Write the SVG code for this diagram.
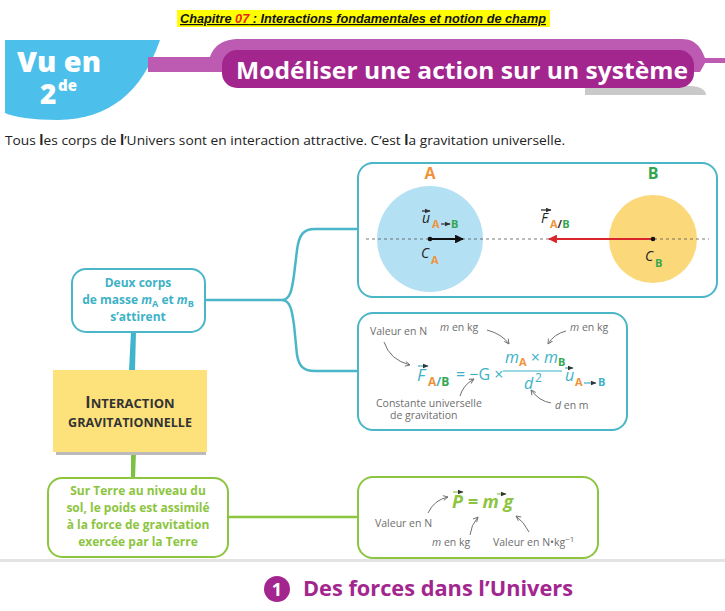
<svg xmlns="http://www.w3.org/2000/svg" width="725" height="611" viewBox="0 0 725 611">
<style>
.sans{font-family:"Open Sans","Noto Sans","Liberation Sans",sans-serif}
.lbl{font-family:"Open Sans","Noto Sans",sans-serif;font-size:10.5px;fill:#6e6e6e}
.teal{fill:#3db2c6}
.org{fill:#f0923a}
.grn{fill:#34a64f}
.lg{fill:#8cc540}
.box{fill:#fff;stroke-width:2}
.tb{stroke:#4bb6c8}
.gb{stroke:#8cc540}
.garr{fill:none;stroke:#707070;stroke-width:1}
.vec{fill:none;stroke-width:1.2}
</style>
<defs>
<marker id="ga" viewBox="0 0 10 10" refX="9" refY="5" markerWidth="6" markerHeight="6" orient="auto"><path d="M1,1 L9,5 L1,9" fill="none" stroke="#707070" stroke-width="1.5"/></marker>
<marker id="ka" viewBox="0 0 10 10" refX="9" refY="5" markerWidth="4" markerHeight="4" orient="auto"><path d="M0,0 L10,5 L0,10 Z" fill="#111"/></marker>
<marker id="ra" viewBox="0 0 10 10" refX="9" refY="5" markerWidth="4" markerHeight="4" orient="auto"><path d="M0,0 L10,5 L0,10 Z" fill="#d9262d"/></marker>
<marker id="va" viewBox="0 0 10 10" refX="9" refY="5" markerWidth="5" markerHeight="5" orient="auto"><path d="M0,1 L10,5 L0,9 Z" fill="#333"/></marker>
</defs>
<rect width="725" height="611" fill="#fff"/>

<g id="chapter">
<rect x="177" y="10" width="373" height="17" fill="#ffff00"/>
<text x="180" y="23" font-family="'Liberation Sans',sans-serif" font-size="12" font-weight="bold" font-style="italic" text-decoration="underline" fill="#111" textLength="366" lengthAdjust="spacingAndGlyphs">Chapitre <tspan fill="#e8261c">07</tspan> : Interactions fondamentales et notion de champ</text>
</g>

<g id="header">
<path d="M5,40 H160 C142,92 110,119 58,120 C32,120 14,117 5,113 Z" fill="#4cbfeb"/>
<text x="17" y="72" class="sans" font-size="28" font-weight="800" fill="#fff" textLength="84" lengthAdjust="spacingAndGlyphs">Vu en</text>
<text x="40" y="104" class="sans" font-size="28" font-weight="800" fill="#fff">2</text>
<text x="58" y="91" class="sans" font-size="15" font-weight="800" fill="#fff">de</text>
<path d="M148,57 H210 C214,46 222,39 240,39 H682 C697,39 702,50 705,58 H725 V63 H705 L700,72 H148 Z" fill="#bd5bb3"/>
<path d="M585,86 H690 C700,86 706,90 706,95 H585 Z" fill="#c9c9c9"/>
<rect x="222" y="50" width="472" height="38" rx="15" fill="#a3268f"/>
<text x="236" y="79" class="sans" font-size="24" font-weight="bold" fill="#fff" textLength="452" lengthAdjust="spacingAndGlyphs">Modéliser une action sur un système</text>
</g>

<g id="intro">
<text x="5" y="145" class="sans" font-size="13.5" fill="#222" textLength="560" lengthAdjust="spacingAndGlyphs">Tous <tspan font-weight="bold">l</tspan>es corps de <tspan font-weight="bold">l</tspan>’Univers sont en interaction attractive. C’est <tspan font-weight="bold">l</tspan>a gravitation universelle.</text>
</g>

<g id="connectors">
<path d="M205,300 H282 C290,300 292,290 294,275 L297,250 C299,235 303,229 315,229 H358" fill="none" stroke="#4bb6c8" stroke-width="2.5"/>
<path d="M282,300 C290,300 292,310 294,325 L297,355 C299,366 303,371 315,371 H358" fill="none" stroke="#4bb6c8" stroke-width="2.5"/>
<path d="M131,332 L136,332 L135,370 L129,370 Z" fill="#3fb4cc"/>
<path d="M131,452 L136,452 L135,478 L131,478 Z" fill="#7cc142"/>
<path d="M228,517 H358" fill="none" stroke="#8cc540" stroke-width="2.5"/>
</g>

<g id="node-masses">
<rect x="72" y="269" width="133" height="63" rx="14" class="box tb"/>
<text x="138" y="287" text-anchor="middle" class="sans teal" font-size="12" font-weight="bold">Deux corps</text>
<text x="138" y="304" text-anchor="middle" class="sans teal" font-size="12" font-weight="bold">de masse <tspan font-style="italic">m</tspan><tspan font-size="9" dy="3">A</tspan><tspan dy="-3"> et </tspan><tspan font-style="italic">m</tspan><tspan font-size="9" dy="3">B</tspan></text>
<text x="138" y="321" text-anchor="middle" class="sans teal" font-size="12" font-weight="bold">s’attirent</text>
</g>

<g id="node-interaction">
<rect x="56" y="452" width="150" height="3" fill="#bbb"/>
<rect x="53" y="370" width="154" height="82" fill="#fde27c"/>
<text x="130" y="408" text-anchor="middle" class="sans" font-size="13" font-weight="bold" fill="#333"><tspan font-size="16">I</tspan>NTERACTION</text>
<text x="130" y="427" text-anchor="middle" class="sans" font-size="12.5" font-weight="bold" fill="#333">GRAVITATIONNELLE</text>
</g>

<g id="node-poids">
<rect x="48" y="478" width="180" height="79" rx="14" class="box gb"/>
<text x="138" y="495" text-anchor="middle" class="sans lg" font-size="12" font-weight="bold">Sur Terre au niveau du</text>
<text x="138" y="512" text-anchor="middle" class="sans lg" font-size="12" font-weight="bold">sol, le poids est assimilé</text>
<text x="138" y="529" text-anchor="middle" class="sans lg" font-size="12" font-weight="bold">à la force de gravitation</text>
<text x="138" y="546" text-anchor="middle" class="sans lg" font-size="12" font-weight="bold">exercée par la Terre</text>
</g>

<g id="node-schema">
<rect x="358" y="163" width="359" height="134" rx="15" class="box tb"/>
<circle cx="430" cy="239" r="53" fill="#b4e0f4"/>
<circle cx="653" cy="239" r="44" fill="#fbd97a"/>
<line x1="366" y1="239" x2="709" y2="239" stroke="#555" stroke-width="0.8" stroke-dasharray="3,3"/>
<text x="430" y="179" text-anchor="middle" class="sans org" font-size="16" font-weight="bold">A</text>
<text x="653" y="179" text-anchor="middle" class="sans grn" font-size="16" font-weight="bold">B</text>
<line x1="430" y1="239" x2="463" y2="239" stroke="#111" stroke-width="2.2" marker-end="url(#ka)"/>
<circle cx="430" cy="239" r="2.3" fill="#111"/>
<line x1="653" y1="239" x2="549" y2="239" stroke="#d9262d" stroke-width="2.2" marker-end="url(#ra)"/>
<circle cx="653" cy="239" r="2.3" fill="#111"/>
<text x="422" y="223" class="sans" font-size="14" font-style="italic" fill="#222">u</text>
<path d="M422,211 H430" class="vec" stroke="#222" marker-end="url(#va)"/>
<text x="432" y="228" class="sans org" font-size="11" font-weight="bold">A</text>
<path d="M441,224 H450" class="vec" stroke="#333" marker-end="url(#va)"/>
<text x="451" y="228" class="sans grn" font-size="11" font-weight="bold">B</text>
<text x="541" y="223" class="sans" font-size="14" font-style="italic" fill="#222">F</text>
<path d="M541,210 H551" class="vec" stroke="#222" marker-end="url(#va)"/>
<text x="550" y="228" class="sans" font-size="11" font-weight="bold"><tspan class="org">A</tspan><tspan fill="#333">/</tspan><tspan class="grn">B</tspan></text>
<text x="421" y="258" class="sans" font-size="14" font-style="italic" fill="#222">C</text>
<text x="431" y="264" class="sans org" font-size="11" font-weight="bold">A</text>
<text x="645" y="261" class="sans" font-size="14" font-style="italic" fill="#222">C</text>
<text x="655" y="267" class="sans grn" font-size="11" font-weight="bold">B</text>
</g>

<g id="node-formule">
<rect x="358" y="313" width="269" height="117" rx="15" class="box tb"/>
<text x="370" y="335" class="lbl">Valeur en N</text>
<text x="440" y="331" class="lbl"><tspan font-style="italic">m</tspan> en kg</text>
<text x="570" y="331" class="lbl"><tspan font-style="italic">m</tspan> en kg</text>
<text x="376" y="407" class="lbl">Constante universelle</text>
<text x="390" y="419" class="lbl">de gravitation</text>
<text x="555" y="409" class="lbl"><tspan font-style="italic">d</tspan> en m</text>
<path d="M384,342 Q390,360 410,365" class="garr" marker-end="url(#ga)"/>
<path d="M487,330 Q502,334 509,344" class="garr" marker-end="url(#ga)"/>
<path d="M566,331 Q554,334 548,344" class="garr" marker-end="url(#ga)"/>
<path d="M460,396 Q463,385 474,379" class="garr" marker-end="url(#ga)"/>
<path d="M551,403 Q539,401 531,390" class="garr" marker-end="url(#ga)"/>
<text x="417" y="381" class="sans teal" font-size="17" font-style="italic">F</text>
<path d="M418,366 H428" class="vec" stroke="#3db2c6" marker-end="url(#va)"/>
<text x="428" y="386" class="sans" font-size="12" font-weight="bold"><tspan class="org">A</tspan><tspan class="teal">/</tspan><tspan class="grn">B</tspan></text>
<text x="456" y="380" class="sans teal" font-size="16">= −G ×</text>
<text x="505" y="363" class="sans teal" font-size="16"><tspan font-style="italic">m</tspan><tspan class="org" font-size="11" font-weight="bold" dy="3">A</tspan><tspan dy="-3"> × </tspan><tspan font-style="italic">m</tspan><tspan class="grn" font-size="11" font-weight="bold" dy="3">B</tspan></text>
<line x1="503" y1="371" x2="562" y2="371" stroke="#3db2c6" stroke-width="1.2"/>
<text x="524" y="389" class="sans teal" font-size="16" font-style="italic">d</text>
<text x="535" y="382" class="sans teal" font-size="12">2</text>
<text x="565" y="381" class="sans teal" font-size="16" font-style="italic">u</text>
<path d="M565,368 H573" class="vec" stroke="#3db2c6" marker-end="url(#va)"/>
<text x="575" y="386" class="sans org" font-size="11" font-weight="bold">A</text>
<path d="M584,383 H596" class="vec" stroke="#3db2c6" marker-end="url(#va)"/>
<text x="598" y="386" class="sans teal" font-size="11" font-weight="bold">B</text>
</g>

<g id="node-poids-formule">
<rect x="358" y="477" width="240" height="81" rx="15" class="box gb"/>
<text x="452" y="508" class="sans lg" font-size="18" font-weight="bold" font-style="italic">P = m g</text>
<path d="M453,492 H463" class="vec" stroke="#8cc540" marker-end="url(#va)"/>
<path d="M497,494 H506" class="vec" stroke="#8cc540" marker-end="url(#va)"/>
<text x="375" y="527" class="lbl">Valeur en N</text>
<text x="432" y="546" class="lbl"><tspan font-style="italic">m</tspan> en kg</text>
<text x="493" y="546" class="lbl">Valeur en N•kg<tspan font-size="8" dy="-4">−1</tspan></text>
<path d="M428,513 Q434,500 448,497" class="garr" marker-end="url(#ga)"/>
<path d="M470,535 Q471,525 478,517" class="garr" marker-end="url(#ga)"/>
<path d="M529,532 Q524,522 516,516" class="garr" marker-end="url(#ga)"/>
</g>

<g id="section">
<rect x="0" y="559" width="725" height="3" fill="#e3e3e3"/>
<circle cx="277" cy="589" r="13" fill="#a3268f"/>
<text x="277" y="596" text-anchor="middle" class="sans" font-size="18" font-weight="bold" fill="#fff">1</text>
<text x="303" y="596" class="sans" font-size="21" font-weight="bold" fill="#a3268f" textLength="270" lengthAdjust="spacingAndGlyphs">Des forces dans l’Univers</text>
</g>
</svg>
